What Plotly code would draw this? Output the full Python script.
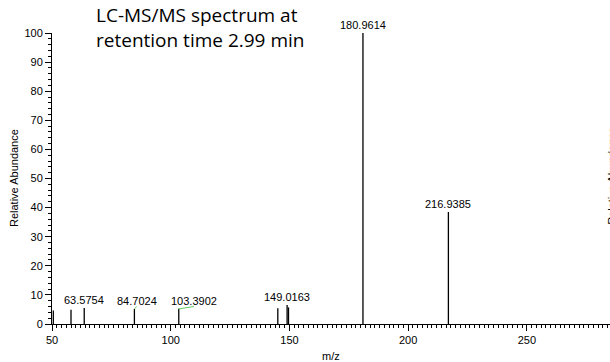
import plotly.graph_objects as go

# ---- data ----
peak_mz = [50.55, 58.0, 63.5754, 84.7024, 103.3902, 145.1, 149.0163, 149.6, 180.9614, 216.9385]
peak_int = [4.6, 4.9, 5.5, 5.2, 5.2, 5.4, 6.5, 5.7, 100.0, 38.5]

label_text = ["63.5754", "84.7024", "103.3902", "149.0163", "180.9614", "216.9385"]
label_peak_mz = [63.5754, 84.7024, 103.3902, 149.0163, 180.9614, 216.9385]
label_peak_int = [5.5, 5.2, 5.2, 6.5, 100.0, 38.5]
label_pos_mz = [63.5754, 85.7, 109.8, 148.9, 180.9614, 216.9385]
leader_labels = ["84.7024", "103.3902"]

title_text = "LC-MS/MS spectrum at<br>retention time 2.99 min"
x_title = "m/z"
y_title = "Relative Abundance"

x_range = [50, 285]
y_range = [0, 100]

# ---- geometry (body margin removed by post_script) ----
W, H = 610, 362
ML, MR, MT = 52, 0, 33
PLOT_BOTTOM = 324.3
MB = H - PLOT_BOTTOM
PW = W - ML - MR
PH = PLOT_BOTTOM - MT

def px_x(xp):
    return (xp - ML) / PW

def px_y(yp):
    return (PLOT_BOTTOM - yp) / PH

# ---- build stick spectrum ----
xs, ys = [], []
for m, i in zip(peak_mz, peak_int):
    xs += [m, m, None]
    ys += [0, i, None]

fig = go.Figure()
fig.add_trace(go.Scatter(x=xs, y=ys, mode="lines",
                         line=dict(color="black", width=1.3),
                         hoverinfo="skip", showlegend=False, cliponaxis=False))

for t, pm, pi, lm in zip(label_text, label_peak_mz, label_peak_int, label_pos_mz):
    if t in leader_labels:
        fig.add_trace(go.Scatter(x=[pm, lm], y=[pi, pi + 0.8], mode="lines",
                                 line=dict(color="#5fcf5f", width=1),
                                 hoverinfo="skip", showlegend=False))

font_main = "Liberation Sans, Arial, sans-serif"
annotations = []
for t, pi, lm in zip(label_text, label_peak_int, label_pos_mz):
    annotations.append(dict(x=lm, y=pi, xref="x", yref="y", text=t, showarrow=False,
                            xanchor="center", yanchor="bottom",
                            font=dict(family=font_main, size=11, color="black")))

annotations.append(dict(x=px_x(94), y=px_y(0), xref="paper", yref="paper",
                        text=title_text, showarrow=False, align="left",
                        xanchor="left", yanchor="top",
                        font=dict(family="Open Sans, sans-serif", size=19, color="black")))
annotations.append(dict(x=0.5, y=px_y(356), xref="paper", yref="paper",
                        text=x_title, showarrow=False, xanchor="center", yanchor="middle",
                        font=dict(family=font_main, size=11, color="black")))
annotations.append(dict(x=px_x(13.5), y=0.5, xref="paper", yref="paper",
                        text=y_title, showarrow=False, textangle=-90,
                        xanchor="center", yanchor="middle",
                        font=dict(family=font_main, size=11, color="black")))
annotations.append(dict(x=px_x(612), y=px_y(176), xref="paper", yref="paper",
                        text=y_title, showarrow=False, textangle=-90,
                        xanchor="center", yanchor="middle",
                        font=dict(family=font_main, size=11, color="black")))

fig.update_layout(
    width=W, height=H,
    margin=dict(l=ML, r=MR, t=MT, b=MB, pad=0),
    paper_bgcolor="white", plot_bgcolor="white",
    annotations=annotations,
    xaxis=dict(range=x_range, showgrid=False, zeroline=False, showline=True,
               linecolor="black", linewidth=1, ticks="outside", ticklen=6,
               tickcolor="black", tickwidth=1, dtick=50, tick0=50,
               tickfont=dict(family=font_main, size=11, color="black"),
               minor=dict(dtick=2, ticks="outside", ticklen=3, tickcolor="black", tickwidth=1)),
    yaxis=dict(range=y_range, showgrid=False, zeroline=False, showline=True,
               linecolor="black", linewidth=1, ticks="outside", ticklen=6,
               tickcolor="black", tickwidth=1, dtick=10, tick0=0,
               tickfont=dict(family=font_main, size=11, color="black"),
               minor=dict(dtick=2, ticks="outside", ticklen=3, tickcolor="black", tickwidth=1)),
)

fig.write_html("out.html", config={"displayModeBar": False},
               post_script="document.body.style.margin='0';document.body.style.overflow='hidden';")
